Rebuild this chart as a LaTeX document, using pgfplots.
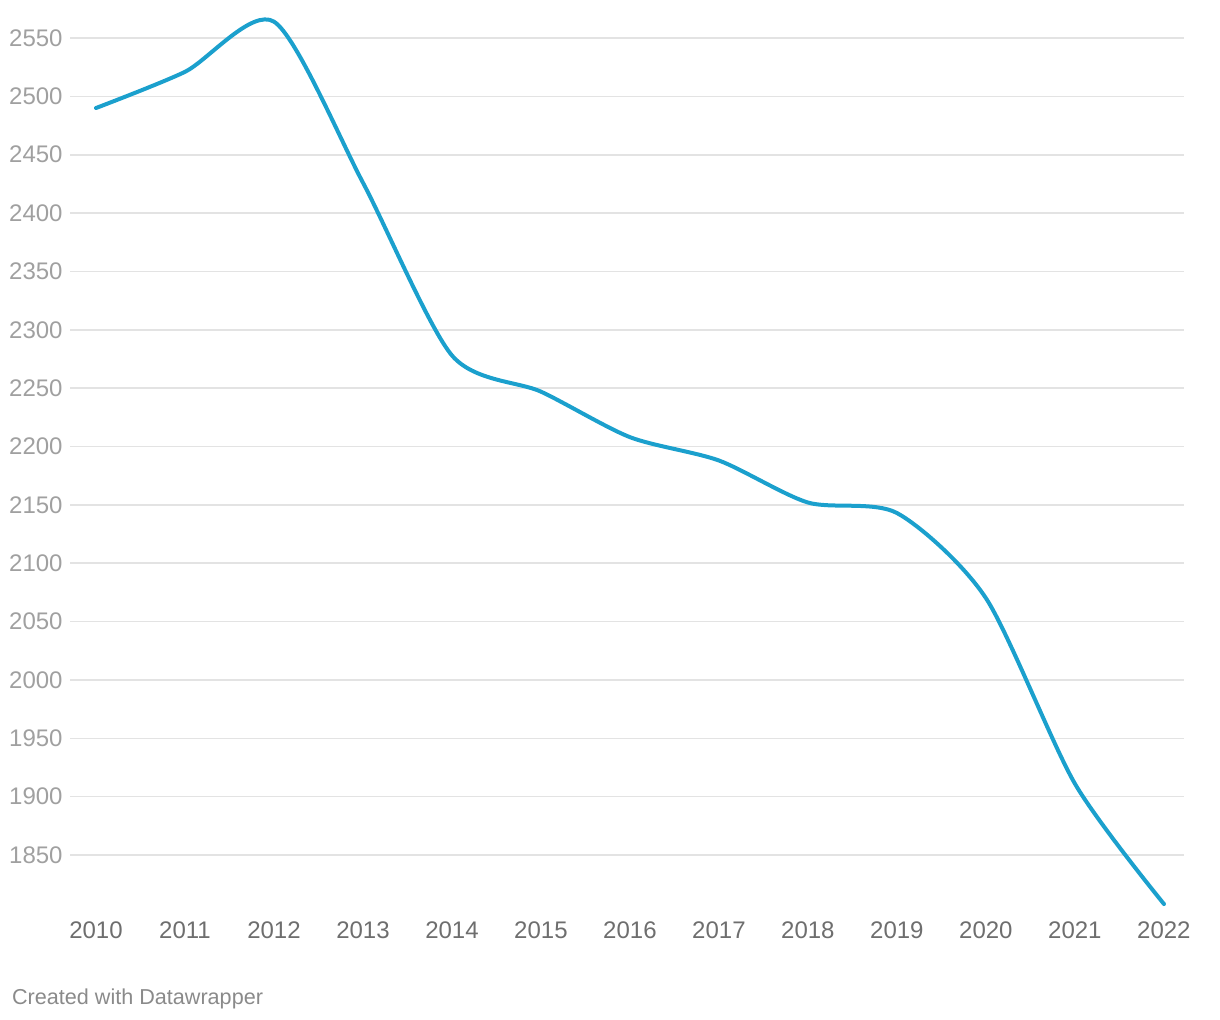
\documentclass[border=0pt]{standalone}
\usepackage{pgfplots}
\pgfplotsset{compat=1.18}
\usepackage{fontspec}
\setmainfont{Liberation Sans}
\definecolor{linec}{HTML}{1BA0CD}
\definecolor{gridc}{HTML}{E3E3E3}
\definecolor{ylab}{HTML}{A0A0A0}
\definecolor{xlab}{HTML}{6E6E6E}
\definecolor{foot}{HTML}{8A8A8A}
\begin{document}
\begin{tikzpicture}[x=1pt,y=1pt]
\path[use as bounding box] (0,0) rectangle (610,510);
\begin{axis}[
  at={(35pt,53.3pt)}, anchor=south west,
  scale only axis, width=557pt, height=455.2pt,
  xmin=2009.708, xmax=2022.225,
  ymin=1800, ymax=2580,
  clip=false,
  axis line style={draw=none},
  tick style={draw=none},
  major tick length=0pt,
  xtick={2010,...,2022},
  ytick={1850,1900,...,2550},
  ymajorgrids,
  grid style={gridc, line width=0.8pt},
  /pgf/number format/1000 sep={},
  /pgf/number format/assume math mode=true,
  xticklabel style={font=\fontsize{12}{14}\selectfont, text=xlab, anchor=center, inner sep=0pt, yshift=-8.3pt},
  yticklabel style={font=\fontsize{12}{14}\selectfont, text=ylab, anchor=east, inner sep=0pt, xshift=-3.5pt},
]
\addplot[linec, line width=2pt, smooth, tension=0.45, line cap=round] coordinates {
(2010,2490) (2011,2521) (2012,2564) (2013,2426) (2014,2278) (2015,2247)
(2016,2208) (2017,2188) (2018,2152) (2019,2143) (2020,2070) (2021,1911) (2022,1808)
};
\end{axis}
\node[anchor=base west, inner sep=0pt, text=foot, font=\fontsize{10.8}{12}\selectfont] at (5.85,7.5) {Created with Datawrapper};
\end{tikzpicture}
\end{document}
